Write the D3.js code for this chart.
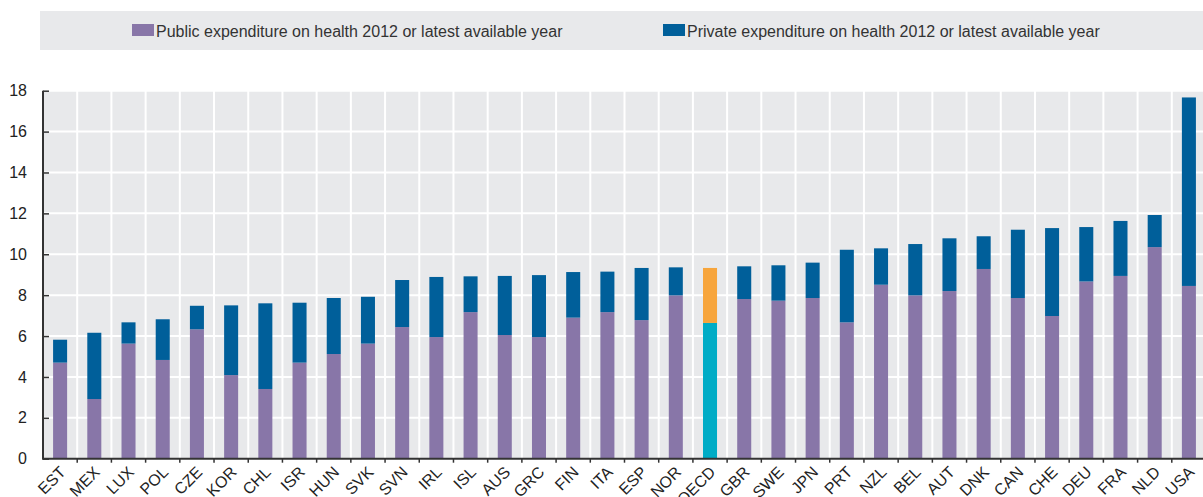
<!DOCTYPE html>
<html><head><meta charset="utf-8">
<script src="https://cdn.jsdelivr.net/npm/d3@7"></script>
<style>body{margin:0;background:#fff;} svg{display:block;font-family:"Liberation Sans",Arial,sans-serif;}</style>
</head><body>
<svg id="c" width="1203" height="497"></svg>
<script>
const categories = ["EST","MEX","LUX","POL","CZE","KOR","CHL","ISR","HUN","SVK","SVN","IRL","ISL","AUS","GRC","FIN","ITA","ESP","NOR","OECD","GBR","SWE","JPN","PRT","NZL","BEL","AUT","DNK","CAN","CHE","DEU","FRA","NLD","USA"];
const publicExp = [4.70,2.92,5.63,4.83,6.33,4.09,3.41,4.70,5.12,5.63,6.44,5.95,7.17,6.05,5.95,6.90,7.17,6.78,7.99,6.64,7.81,7.73,7.86,6.67,8.51,7.99,8.20,9.28,7.86,6.98,8.67,8.94,10.35,8.45];
const privateExp = [1.12,3.24,1.04,1.99,1.15,3.41,4.19,2.93,2.74,2.29,2.30,2.94,1.75,2.89,3.03,2.23,1.98,2.55,1.37,2.69,1.60,1.73,1.73,3.55,1.78,2.51,2.58,1.60,3.34,4.30,2.66,2.69,1.57,9.22];
const yTicks = [0,2,4,6,8,10,12,14,16,18];
const seriesNames = ["Public expenditure on health 2012 or latest available year","Private expenditure on health 2012 or latest available year"];

const svg = d3.select("#c");
const M = {left:43, right:1206, top:90.7, bottom:458.7};
const x = d3.scaleBand().domain(categories).range([M.left, M.right]).paddingInner(0.59).paddingOuter(0.295);
const xb = d3.scaleBand().domain(categories).range([M.left, M.right]);
const y = d3.scaleLinear().domain([0,18]).range([M.bottom, M.top]);

const colPub = "#8876a8", colPriv = "#005f9a", colOecdPub = "#00acc6", colOecdPriv = "#f7a53c";

// legend
svg.append("rect").attr("x",40).attr("y",11).attr("width",1163).attr("height",39).attr("fill","#e8e9eb");
const leg = [{x:132,c:colPub,t:seriesNames[0]},{x:663,c:colPriv,t:seriesNames[1]}];
leg.forEach(l=>{
  svg.append("rect").attr("x",l.x).attr("y",24).attr("width",22).attr("height",12).attr("fill",l.c);
  svg.append("text").attr("x",l.x+24).attr("y",36.5).attr("font-size",16).attr("fill","#333").text(l.t);
});

// plot bg
svg.append("rect").attr("x",M.left).attr("y",M.top).attr("width",1203-M.left).attr("height",M.bottom-M.top).attr("fill","#e8e9eb");
// grid
svg.append("g").selectAll("line").data(yTicks.slice(1)).join("line")
  .attr("x1",M.left).attr("x2",1203).attr("y1",d=>y(d)).attr("y2",d=>y(d)).attr("stroke","#fff").attr("stroke-width",2);
svg.append("g").selectAll("line").data(categories.slice(1)).join("line")
  .attr("x1",d=>xb(d)).attr("x2",d=>xb(d)).attr("y1",M.top).attr("y2",M.bottom).attr("stroke","#fff").attr("stroke-width",2);

// bars
const g = svg.append("g");
categories.forEach((c,i)=>{
  const oecd = c==="OECD";
  g.append("rect").attr("x",x(c)).attr("width",x.bandwidth()).attr("y",y(publicExp[i])).attr("height",y(0)-y(publicExp[i])).attr("fill",oecd?colOecdPub:colPub);
  const tot = publicExp[i]+privateExp[i];
  g.append("rect").attr("x",x(c)).attr("width",x.bandwidth()).attr("y",y(tot)).attr("height",y(publicExp[i])-y(tot)).attr("fill",oecd?colOecdPriv:colPriv);
});

// y axis
const ya = svg.append("g").attr("transform",`translate(${M.left},0)`)
  .call(d3.axisLeft(y).tickValues(yTicks).tickSize(-6).tickPadding(16));
ya.select(".domain").remove();
ya.selectAll("line").attr("stroke","#333").attr("stroke-width",1.5);
ya.selectAll("text").attr("font-size",16).attr("fill","#222").attr("font-family","Liberation Sans, Arial, sans-serif");
svg.append("line").attr("x1",M.left).attr("x2",M.left).attr("y1",M.top).attr("y2",M.bottom+1).attr("stroke","#333").attr("stroke-width",2);

// x axis
svg.append("line").attr("x1",M.left).attr("x2",1203).attr("y1",M.bottom).attr("y2",M.bottom).attr("stroke","#333").attr("stroke-width",2);
svg.append("g").selectAll("line").data(categories.slice(1)).join("line")
  .attr("x1",d=>xb(d)).attr("x2",d=>xb(d)).attr("y1",M.bottom).attr("y2",M.bottom+4).attr("stroke","#333").attr("stroke-width",1.5);
svg.append("g").selectAll("text").data(categories).join("text")
  .attr("transform",d=>`translate(${xb(d)+xb.bandwidth()/2-2},${M.bottom+6}) rotate(-45)`)
  .attr("text-anchor","end").attr("dy","0.75em").attr("font-size",16).attr("fill","#222").text(d=>d);
</script>
</body></html>
